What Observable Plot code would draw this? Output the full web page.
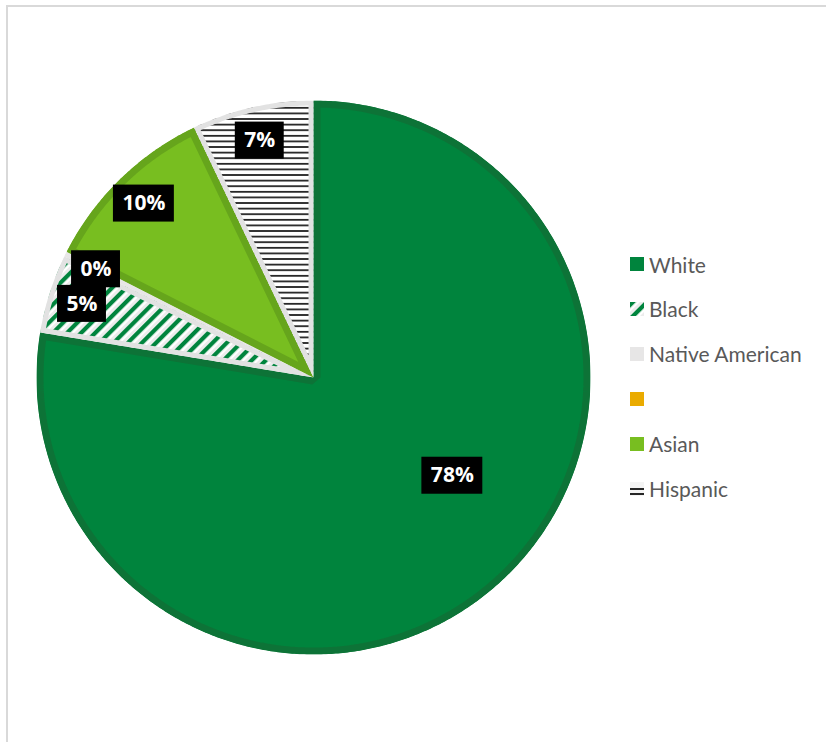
<!DOCTYPE html>
<html><head><meta charset="utf-8">
<script src="https://cdn.jsdelivr.net/npm/d3@7"></script>
<script src="https://cdn.jsdelivr.net/npm/@observablehq/plot@0.6"></script>
<style>
body{margin:0;background:#fff;}
#wrap{position:relative;width:826px;height:742px;overflow:hidden;background:#fff;}
#frame{position:absolute;left:6px;top:5px;width:900px;height:800px;border-left:2px solid #d9d9d9;border-top:2px solid #d9d9d9;}
#chart{position:absolute;left:0;top:0;}
#legend{position:absolute;left:0;top:0;font-family:Lato, sans-serif;font-size:21px;color:#595959;}
.item{position:absolute;display:flex;align-items:center;white-space:nowrap;height:24px;}
.item svg{margin-right:5px;display:block;}
</style></head>
<body><div id="wrap"><div id="frame"></div><div id="chart"></div><div id="legend"></div></div>
<script>
// ---- data ----
const categories = ["White", "Black", "Native American", "", "Asian", "Hispanic"];
const shares = [77.6, 4.6, 0.3, 0, 10.4, 7.1];
// ---- styles ----
const fillColors = ["#00843d", "url(#hatchBlack)", "#e7e6e6", "#eaab00", "#78be20", "url(#linesHispanic)"];
const borderColors = ["#0d7337", "#e2e2e2", "#e7e6e6", "#eaab00", "#66a51c", "#e2e2e2"];
const borderWidths = [14, 10, 10, 10, 14, 10];

const R = 277;          // pie radius in px
const CX = 313, CY = 377;
const total = d3.sum(shares);
const arcs = d3.pie().sort(null).value(d => d)(shares);

function slicePoints(a) {
  const pts = [{x: 0, y: 0}];
  const n = Math.max(2, Math.ceil((a.endAngle - a.startAngle) / (Math.PI / 360)));
  for (let i = 0; i <= n; i++) {
    const t = a.startAngle + (a.endAngle - a.startAngle) * i / n;
    pts.push({x: Math.sin(t), y: Math.cos(t)});
  }
  pts.push({x: 0, y: 0});
  return pts;
}

// labels
const ctx = document.createElement("canvas").getContext("2d");
ctx.font = "bold 21px 'Open Sans'";
const maxIdx = d3.maxIndex(shares);
const labels = [];
arcs.forEach((a, i) => {
  if (shares[i] <= 0) return;
  let mid = (a.startAngle + a.endAngle) / 2;
  let r = 0.877;
  if (i === maxIdx) { r = 0.614; mid -= 14.4 * Math.PI / 180; }
  const x = r * Math.sin(mid), y = r * Math.cos(mid);
  const label = d3.format(".0%")(shares[i] / total);
  const w = ctx.measureText(label).width + 18, h = 37;
  labels.push({i, x, y, label, x1: x - w / 2 / R, x2: x + w / 2 / R, y1: y - h / 2 / R, y2: y + h / 2 / R});
});
const labelOrder = [0, 5, 4, 2, 1];
const orderedLabels = labelOrder.map(i => labels.find(l => l.i === i)).filter(Boolean);

const marks = [];
arcs.forEach((a, i) => {
  if (shares[i] <= 0) return;
  marks.push(Plot.line(slicePoints(a), {
    x: "x", y: "y", fill: fillColors[i], stroke: borderColors[i],
    strokeWidth: borderWidths[i], strokeLinejoin: "miter", curve: "linear-closed",
    className: "slice"
  }));
});
orderedLabels.forEach(l => {
  marks.push(Plot.rect([l], {x1: "x1", x2: "x2", y1: "y1", y2: "y2", fill: "black"}));
  marks.push(Plot.text([l], {x: "x", y: "y", text: "label", fill: "white", fontSize: 21,
    fontWeight: "bold", fontFamily: "'Open Sans', sans-serif"}));
});

const chart = Plot.plot({
  width: 826, height: 742, margin: 0,
  x: {domain: [-1, 1], range: [CX - R, CX + R], axis: null},
  y: {domain: [-1, 1], range: [CY + R, CY - R], axis: null},
  style: {background: "transparent", overflow: "visible"},
  marks
});

const defs = d3.select(chart).insert("defs", ":first-child");
const hb = defs.append("pattern").attr("id", "hatchBlack").attr("patternUnits", "userSpaceOnUse")
  .attr("width", 10).attr("height", 10).attr("patternTransform", "rotate(45)");
hb.append("rect").attr("width", 10).attr("height", 10).attr("fill", "#ffffff");
hb.append("rect").attr("x", 7).attr("width", 3).attr("height", 10).attr("fill", "#ececec");
hb.append("rect").attr("width", 4.2).attr("height", 10).attr("fill", "#00843d");
const hh = defs.append("pattern").attr("id", "linesHispanic").attr("patternUnits", "userSpaceOnUse")
  .attr("width", 10).attr("height", 5.6);
hh.append("rect").attr("width", 10).attr("height", 5.6).attr("fill", "#ffffff");
hh.append("rect").attr("y", 0).attr("width", 10).attr("height", 1.8).attr("fill", "#262626");

// inner borders: clip each slice's stroke to its own shape
d3.select(chart).selectAll(".slice path").each(function(_, k) {
  const id = "sliceClip" + k;
  defs.append("clipPath").attr("id", id).append("path").attr("d", d3.select(this).attr("d"));
  d3.select(this).attr("clip-path", `url(#${id})`);
});

document.getElementById("chart").appendChild(chart);

// legend
const legend = d3.select("#legend");
categories.forEach((c, i) => {
  const cy = 264 + i * 44.9;
  const item = legend.append("div").attr("class", "item")
    .style("left", "630px").style("top", (cy - 12) + "px");
  const s = item.append("svg").attr("width", 14).attr("height", 14);
  if (i === 5) {
    s.append("rect").attr("width", 14).attr("height", 14).attr("fill", "#f4f4f4");
    s.append("rect").attr("y", 6).attr("width", 14).attr("height", 2).attr("fill", "#262626");
    s.append("rect").attr("y", 11).attr("width", 14).attr("height", 2).attr("fill", "#262626");
  } else {
    s.append("rect").attr("width", 14).attr("height", 14).attr("fill", fillColors[i]);
  }
  item.append("span").text(c);
});
</script>
</body></html>
